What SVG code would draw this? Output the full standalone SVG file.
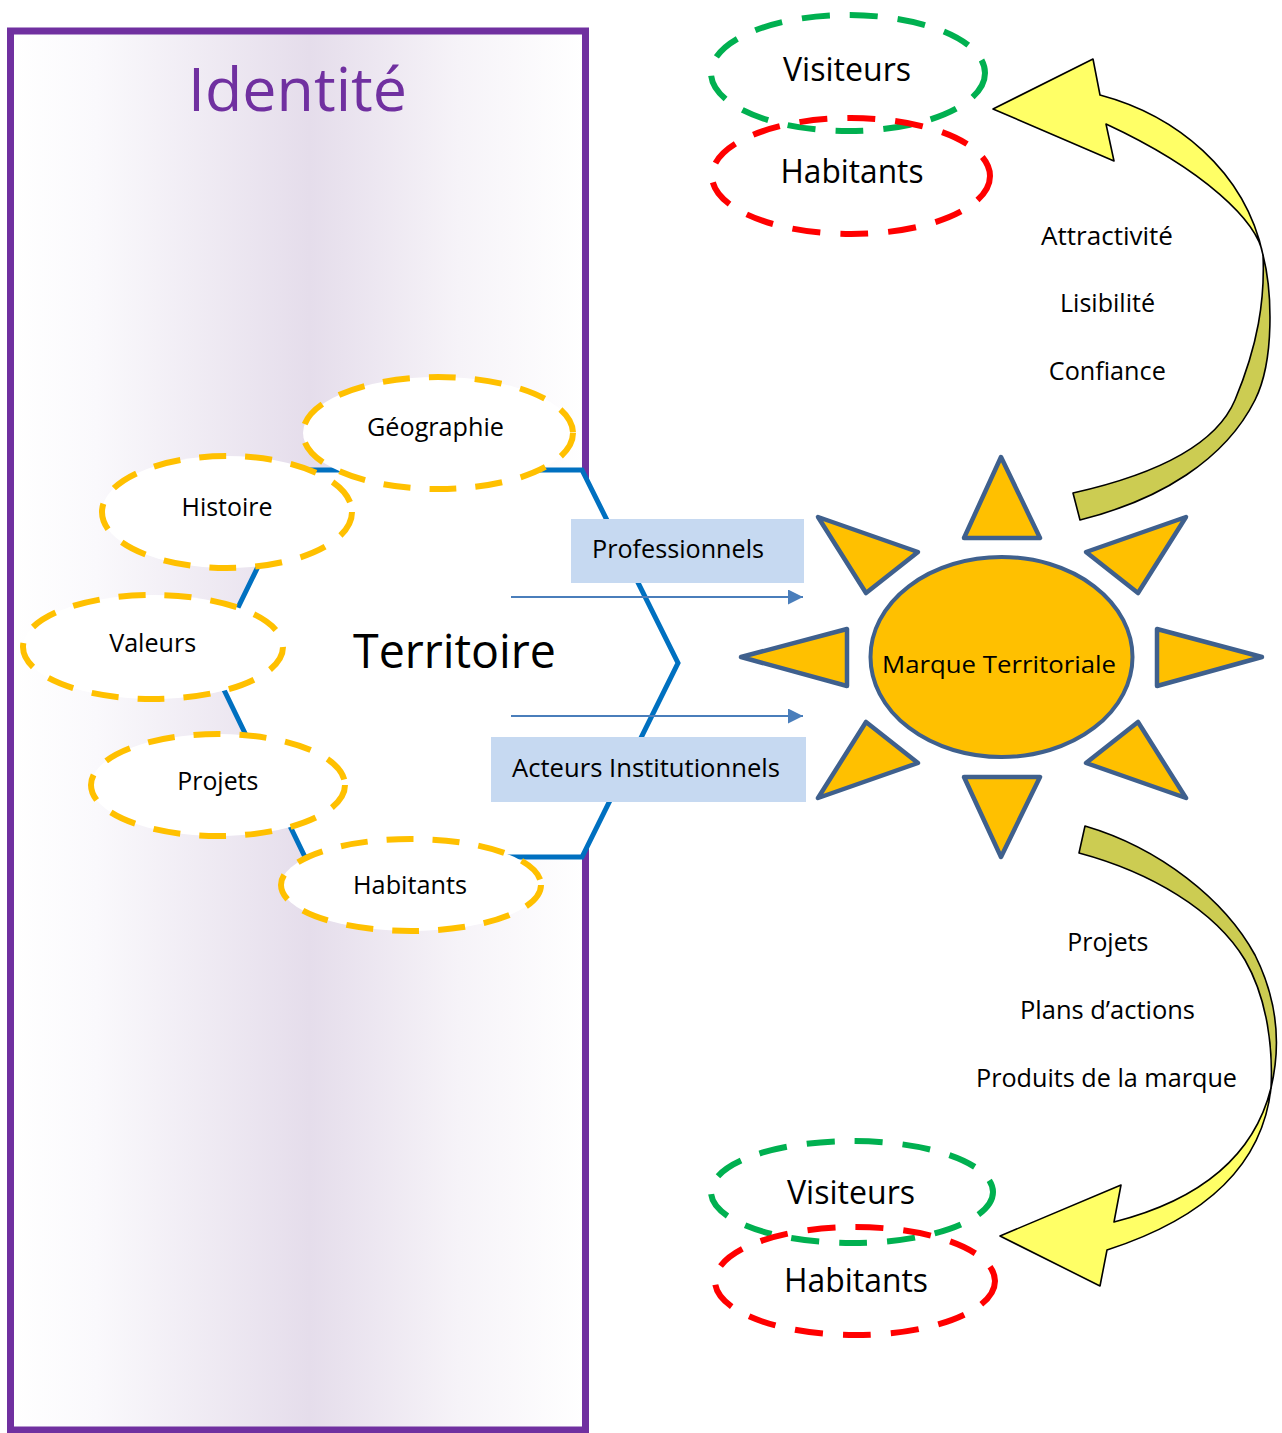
<svg xmlns="http://www.w3.org/2000/svg" width="1282" height="1433" viewBox="0 0 1282 1433">
<defs>
  <linearGradient id="panelGrad" x1="0" y1="0" x2="1" y2="0">
    <stop offset="0" stop-color="#FFFFFF"/>
    <stop offset="0.15" stop-color="#FAF9FC"/>
    <stop offset="0.52" stop-color="#E5DDEB"/>
    <stop offset="0.78" stop-color="#F6F3F8"/>
    <stop offset="1" stop-color="#FFFFFF"/>
  </linearGradient>
  <marker id="arrowBlue" markerUnits="userSpaceOnUse" markerWidth="15" markerHeight="15" viewBox="0 0 15 15" refX="15" refY="7.5" orient="auto">
    <path d="M0,0 L15,7.5 L0,15 Z" fill="#4A7EBB"/>
  </marker>
</defs>
<style>
  text { font-family: "Open Sans", "Noto Sans", sans-serif; fill: #000000; text-anchor: middle; }
  .gold { fill: #FFFFFF; stroke: #FFC000; stroke-width: 6; stroke-dasharray: 27 19; }
  .green { fill: none; stroke: #00B050; stroke-width: 6; stroke-dasharray: 28 20; }
  .red { fill: none; stroke: #FF0000; stroke-width: 6; stroke-dasharray: 28 20; }
  .ray { fill: #FFC000; stroke: #3F608D; stroke-width: 4.5; stroke-linejoin: round; }
  .box { fill: #C6D9F1; }
  .conn { stroke: #4A7EBB; stroke-width: 2; fill: none; }
  .light { fill: #FFFF66; stroke: #000000; stroke-width: 1.6; stroke-linejoin: round; }
  .dark { fill: #CCCC52; stroke: #000000; stroke-width: 1.6; stroke-linejoin: round; }
  .s25 { font-size: 25px; }
  .s32 { font-size: 32px; }
</style>

<g id="identite">
  <rect x="10.5" y="31" width="575" height="1399" fill="url(#panelGrad)" stroke="#7030A0" stroke-width="7"/>
  <text x="297.5" y="111" font-size="61" style="fill:#7030A0" textLength="219" lengthAdjust="spacingAndGlyphs">Identité</text>
</g>

<g id="territoire">
  <polygon points="305,470 582,470 678,663 582,857 305,857 211,663" fill="#FFFFFF" stroke="#0070C0" stroke-width="5"/>
  <text x="454.5" y="668" font-size="48" textLength="203" lengthAdjust="spacingAndGlyphs">Territoire</text>
</g>

<g id="geographie">
  <ellipse class="gold" cx="438" cy="433" rx="135" ry="56"/>
  <text class="s25" x="435.5" y="436" textLength="137" lengthAdjust="spacingAndGlyphs">Géographie</text>
</g>
<g id="histoire">
  <ellipse class="gold" cx="227" cy="512" rx="125" ry="56"/>
  <text class="s25" x="227" y="516" textLength="91" lengthAdjust="spacingAndGlyphs">Histoire</text>
</g>
<g id="valeurs">
  <ellipse class="gold" cx="153" cy="647" rx="130" ry="52"/>
  <text class="s25" x="152.7" y="652" textLength="87" lengthAdjust="spacingAndGlyphs">Valeurs</text>
</g>
<g id="projets-identite">
  <ellipse class="gold" cx="218" cy="785" rx="127" ry="51"/>
  <text class="s25" x="217.8" y="790" textLength="81" lengthAdjust="spacingAndGlyphs">Projets</text>
</g>
<g id="habitants-identite">
  <ellipse class="gold" cx="411" cy="885" rx="130" ry="46"/>
  <text class="s25" x="410" y="894" textLength="114" lengthAdjust="spacingAndGlyphs">Habitants</text>
</g>

<g id="professionnels">
  <rect class="box" x="571" y="519" width="233" height="64"/>
  <text class="s25" x="678" y="558" textLength="172" lengthAdjust="spacingAndGlyphs">Professionnels</text>
</g>
<g id="acteurs-institutionnels">
  <rect class="box" x="491" y="737" width="315" height="65"/>
  <text class="s25" x="646" y="777" textLength="268" lengthAdjust="spacingAndGlyphs">Acteurs Institutionnels</text>
</g>

<g id="marque-territoriale">
  <polygon class="ray" points="1001,457 1040,538 964,538"/>
  <polygon class="ray" points="1001,857 1040,777 964,777"/>
  <polygon class="ray" points="741,657 847,629 847,686"/>
  <polygon class="ray" points="1262,657 1157,629 1157,686"/>
  <polygon class="ray" points="818,517 918,552 866,593"/>
  <polygon class="ray" points="1186,517 1086,552 1138,593"/>
  <polygon class="ray" points="818,798 918,763 866,722"/>
  <polygon class="ray" points="1186,798 1086,763 1138,722"/>
  <ellipse cx="1001.5" cy="657" rx="131" ry="100" fill="#FFC000" stroke="#3F608D" stroke-width="4"/>
  <text x="999" y="673" font-size="24.5" textLength="234" lengthAdjust="spacingAndGlyphs">Marque Territoriale</text>
</g>

<g id="visiteurs-haut">
  <ellipse class="green" cx="848" cy="73" rx="137" ry="58"/>
  <text class="s32" x="847" y="81" textLength="128" lengthAdjust="spacingAndGlyphs">Visiteurs</text>
</g>
<g id="habitants-haut">
  <ellipse class="red" cx="851" cy="176" rx="139" ry="58"/>
  <text class="s32" x="852" y="183" textLength="143" lengthAdjust="spacingAndGlyphs">Habitants</text>
</g>
<g id="visiteurs-bas">
  <ellipse class="green" cx="852" cy="1192" rx="141" ry="51"/>
  <text class="s32" x="851" y="1204" textLength="128" lengthAdjust="spacingAndGlyphs">Visiteurs</text>
</g>
<g id="habitants-bas">
  <ellipse class="red" cx="855" cy="1281" rx="140" ry="54"/>
  <text class="s32" x="856" y="1292" textLength="144" lengthAdjust="spacingAndGlyphs">Habitants</text>
</g>

<g id="labels-haut">
  <text class="s25" x="1107" y="245" textLength="132" lengthAdjust="spacingAndGlyphs">Attractivité</text>
  <text class="s25" x="1107.5" y="312" textLength="95" lengthAdjust="spacingAndGlyphs">Lisibilité</text>
  <text class="s25" x="1107.3" y="380" textLength="117" lengthAdjust="spacingAndGlyphs">Confiance</text>
</g>
<g id="labels-bas">
  <text class="s25" x="1107.8" y="951" textLength="81" lengthAdjust="spacingAndGlyphs">Projets</text>
  <text class="s25" x="1107.5" y="1019" textLength="175" lengthAdjust="spacingAndGlyphs">Plans d’actions</text>
  <text class="s25" x="1106.5" y="1087" textLength="261" lengthAdjust="spacingAndGlyphs">Produits de la marque</text>
</g>

<g id="connectors">
  <line class="conn" x1="511" y1="597" x2="803" y2="597" marker-end="url(#arrowBlue)"/>
  <line class="conn" x1="511" y1="716" x2="803" y2="716" marker-end="url(#arrowBlue)"/>
  <g id="fleche-haut">
    <path class="dark" d="M1263,255 C1265,300 1258,345 1235,400 C1213,452 1140,478 1073,493 L1080,520 C1160,500 1225,460 1255,400 C1275,360 1272,290 1263,255 Z"/>
    <path class="light" d="M993,109 L1093,59 L1100,95 C1175,115 1245,170 1263,255 C1258,222 1205,170 1106,124 L1114,161 Z"/>
  </g>
  <g id="fleche-bas">
    <path class="dark" d="M1085,826 C1160,848 1225,900 1255,955 C1280,1005 1280,1050 1271,1088 C1273,1050 1268,1000 1245,960 C1215,910 1150,872 1079,853 Z"/>
    <path class="light" d="M1271,1088 C1258,1140 1220,1195 1114,1222 L1121,1185 L1000,1236 L1100,1286 L1107,1250 C1200,1220 1262,1170 1271,1088 Z"/>
  </g>
</g>
</svg>
